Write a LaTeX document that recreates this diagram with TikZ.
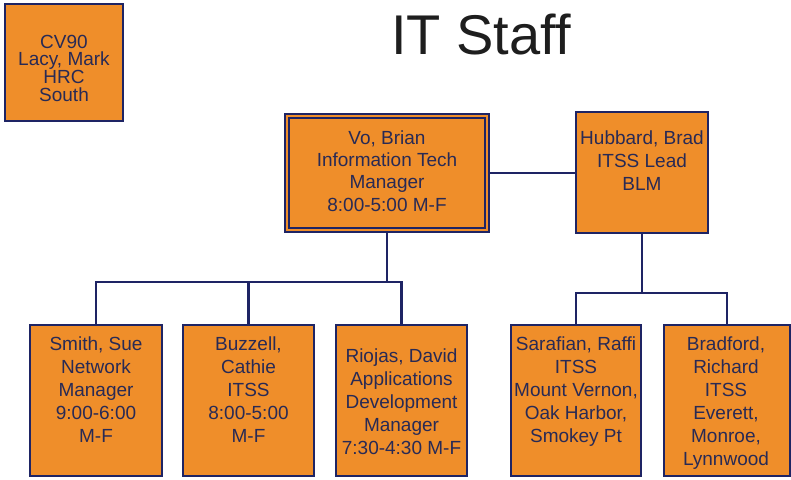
\documentclass[tikz,border=0pt]{standalone}
\usepackage{fontspec}
\setmainfont{Liberation Sans}
\definecolor{boxfill}{RGB}{239,142,42}
\definecolor{navy}{RGB}{30,36,100}
\definecolor{txt}{RGB}{40,42,85}
\definecolor{titlegray}{RGB}{30,30,30}
\newcommand\mycvfont{\fontsize{19}{17.7}\selectfont\lineskiplimit=-10pt\relax}
\begin{document}
\begin{tikzpicture}[x=1pt,y=-1pt,
  box/.style={draw=navy, fill=boxfill, line width=2pt, inner sep=0pt, rectangle},
  txtnode/.style={anchor=north, inner sep=0pt, align=center, text=txt, font=\fontsize{19}{23}\selectfont},
  conn/.style={draw=navy, line width=2.4pt}]
\useasboundingbox (0,0) rectangle (791,479);
\fill[white] (0,0) rectangle (791,479);

% title
\node[font=\fontsize{56}{60}\selectfont, text=titlegray, inner sep=0pt] (title) at (481,35) {IT Staff};

\coordinate (j1) at (387,282);
\coordinate (j2) at (642,293);

% boxes
\node[box, minimum width=118pt, minimum height=117pt] (cv) at (64,62.5) {};
\node[box, draw=navy, double=boxfill, double distance=2.4pt, line width=1.6pt,
      minimum width=200.5pt, minimum height=114.5pt] (vo) at (387,173) {};
\node[box, minimum width=132pt, minimum height=121pt] (hub) at (642,172.5) {};
\node[box, minimum width=132pt, minimum height=151pt] (smith) at (96,400.5) {};
\node[box, minimum width=131pt, minimum height=151pt] (buzzell) at (248.5,400.5) {};
\node[box, minimum width=131pt, minimum height=151pt] (riojas) at (401.5,400.5) {};
\node[box, minimum width=130pt, minimum height=151pt] (sarafian) at (576,400.5) {};
\node[box, minimum width=126pt, minimum height=151pt] (bradford) at (727,400.5) {};

% connectors
\draw[conn] (vo.east) -- (vo.east -| hub.west);
\draw[conn] (vo.south) -- (j1);
\draw[conn] (smith.north) |- (riojas.north |- j1) -- (riojas.north);
\draw[conn] (buzzell.north) -- (buzzell.north |- j1);
\draw[conn] (hub.south) -- (j2);
\draw[conn] (sarafian.north) |- (bradford.north |- j2) -- (bradford.north);

% texts
\node[txtnode, font=\mycvfont] (cvt) at (64,33)
  {\rule{0pt}{15pt}CV90\\Lacy, Mark\\HRC\\South};
\node[txtnode, font=\fontsize{19}{22.3}\selectfont] (vot) at (387,129)
  {\rule{0pt}{15pt}Vo, Brian\\Information Tech\\Manager\\8:00-5:00 M-F};
\node[txtnode] (hubt) at (642,129)
  {\rule{0pt}{15pt}Hubbard, Brad\\ITSS Lead\\BLM};
\node[txtnode] (smitht) at (96,335)
  {\rule{0pt}{15pt}Smith, Sue\\Network\\Manager\\9:00-6:00\\M-F};
\node[txtnode] (buzzellt) at (248.5,335)
  {\rule{0pt}{15pt}Buzzell,\\Cathie\\ITSS\\8:00-5:00\\M-F};
\node[txtnode] (riojast) at (401.5,347)
  {\rule{0pt}{15pt}Riojas, David\\Applications\\Development\\Manager\\7:30-4:30 M-F};
\node[txtnode] (sarafiant) at (576,335)
  {\rule{0pt}{15pt}Sarafian, Raffi\\ITSS\\Mount Vernon,\\Oak Harbor,\\Smokey Pt};
\node[txtnode] (bradfordt) at (726,335)
  {\rule{0pt}{15pt}Bradford,\\Richard\\ITSS\\Everett,\\Monroe,\\Lynnwood};
\end{tikzpicture}
\end{document}
